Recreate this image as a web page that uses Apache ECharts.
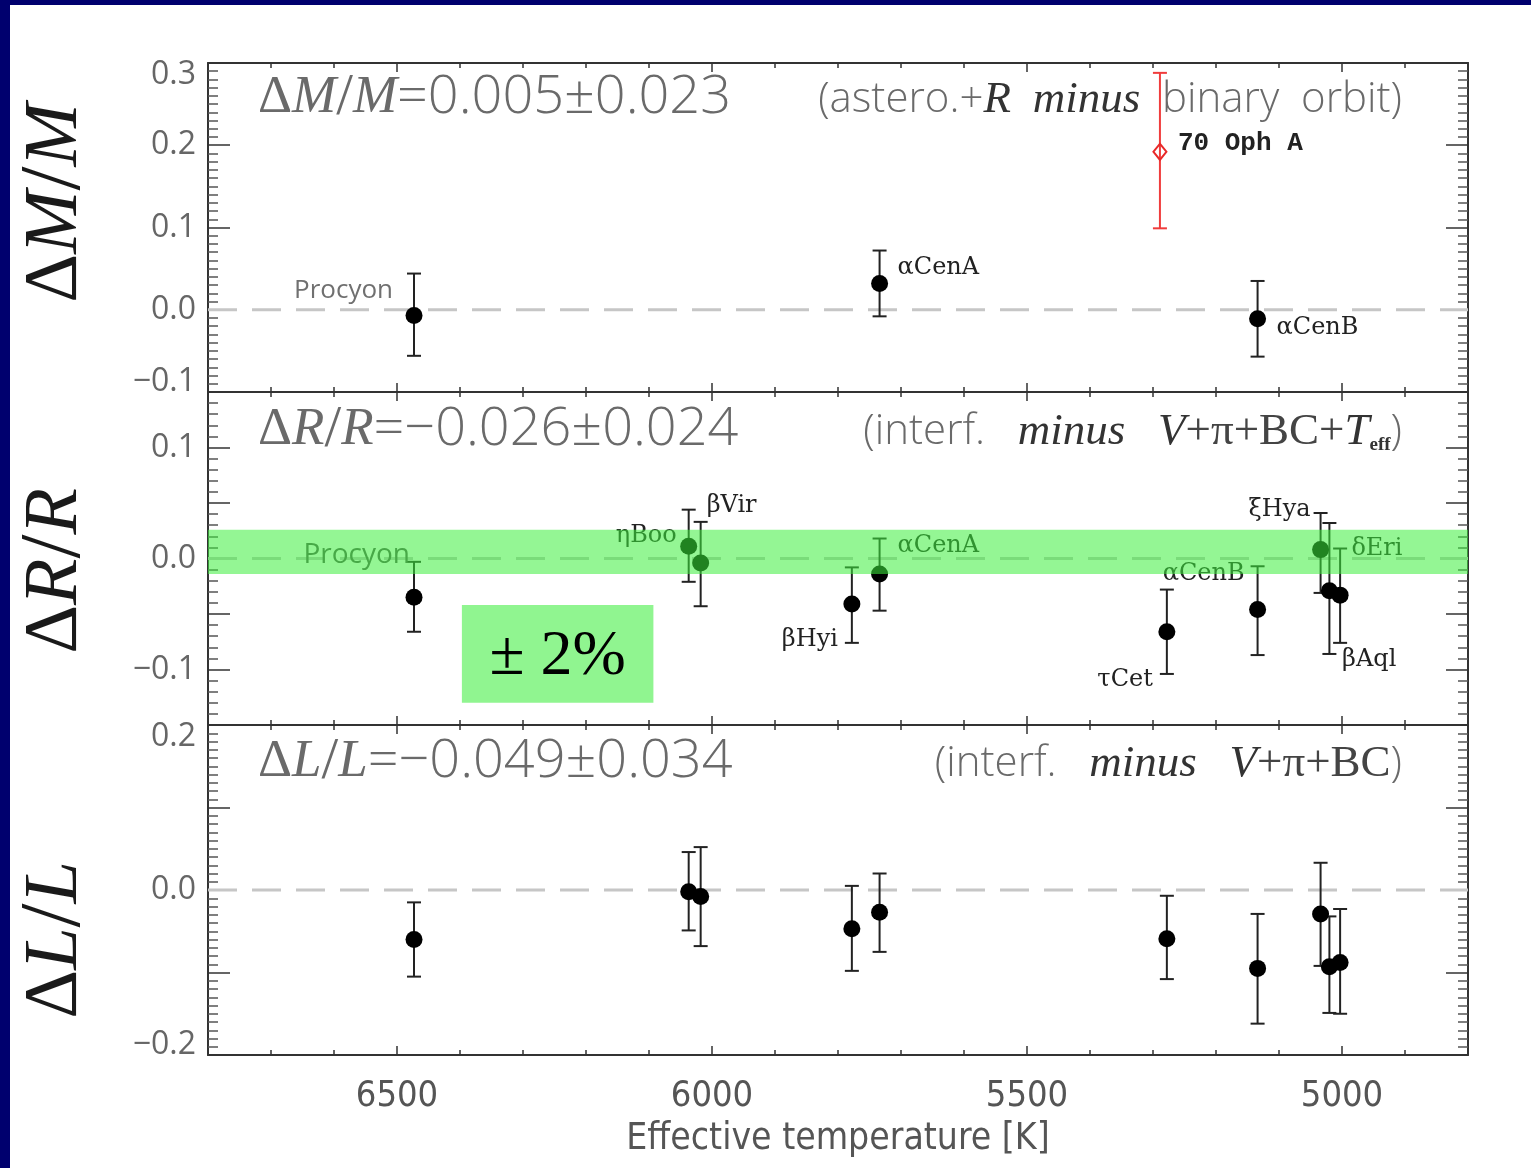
<!DOCTYPE html>
<html>
<head>
<meta charset="utf-8">
<title>Stellar parameter residuals vs effective temperature</title>
<script src="https://cdn.jsdelivr.net/npm/echarts@6/dist/echarts.min.js"></script>
<style>
  html, body { margin: 0; padding: 0; background: #fff; }
  #chart { width: 1531px; height: 1168px; }
</style>
</head>
<body>
<div id="chart"></div>
<script>
// ---- Data ---------------------------------------------------------------
// Temperature axis
const tempTicks = [5000, 5500, 6000, 6500];

// Mass panel (astero. + R minus binary orbit)
const massNames = ['Procyon', 'αCenA', 'αCenB'];
const massTeff  = [6473, 5734, 5134];
const massDelta = [-0.007, 0.032, -0.011];
const massLow   = [-0.056, -0.008, -0.057];
const massHigh  = [0.044, 0.072, 0.035];

const ophNames = ['70 Oph A'];
const ophTeff  = [5289];
const ophDelta = [0.192];
const ophLow   = [0.099];
const ophHigh  = [0.288];

// Radius and luminosity panels share the same stars
const starNames = ['Procyon', 'ηBoo', 'βVir', 'βHyi', 'αCenA', 'τCet', 'αCenB', 'ξHya', 'δEri', 'βAql'];
const starTeff  = [6473, 6037, 6018, 5778, 5734, 5278, 5134, 5034, 5020, 5003];

const radiusDelta = [-0.035, 0.011, -0.004, -0.041, -0.014, -0.066, -0.046, 0.008, -0.029, -0.033];
const radiusLow   = [-0.066, -0.021, -0.043, -0.076, -0.047, -0.104, -0.087, -0.031, -0.086, -0.076];
const radiusHigh  = [-0.003, 0.044, 0.033, -0.008, 0.018, -0.028, -0.007, 0.041, 0.032, 0.009];

const lumDelta = [-0.060, -0.002, -0.008, -0.047, -0.027, -0.059, -0.095, -0.029, -0.093, -0.088];
const lumLow   = [-0.105, -0.049, -0.068, -0.098, -0.075, -0.108, -0.162, -0.092, -0.149, -0.150];
const lumHigh  = [-0.015, 0.046, 0.052, 0.005, 0.020, -0.007, -0.029, 0.033, -0.032, -0.023];

// Panel summaries
const panelStats = ['=0.005±0.023', '=−0.026±0.024', '=−0.049±0.034'];

// ±2% tolerance band in the radius panel
const bandCenter = 0.006;
const bandHalfWidth = 0.02;
const bandText = '± 2%';
const bandBoxTeff = [6397, 6093];
const bandBoxDelta = [-0.042, -0.130];

// ---- Layout / style -----------------------------------------------------
const TMIN = 4800, TMAX = 6800;
const GRID_LEFT = 208, GRID_W = 1260;
const panelTop = [63, 392, 725];
const panelH = [329, 333, 330];
const yRange = [[-0.1, 0.3, 0.1, 10], [-0.15, 0.15, 0.05, 5], [-0.2, 0.2, 0.1, 10]];

const AXIS = '#333';
const SANS = "'Open Sans', 'DejaVu Sans', sans-serif";
const SERIF = "'Liberation Serif', 'DejaVu Serif', serif";
const LABEL_SERIF = "'DejaVu Serif', 'Liberation Serif', serif";
const NARROW = "'Liberation Sans Narrow', 'DejaVu Sans Condensed', 'Roboto', sans-serif";

const serifLabel = { fontFamily: LABEL_SERIF, fontSize: 24, color: '#222' };
const grayLabel1 = { fontFamily: SANS, fontSize: 26, color: '#707070' };
const grayLabel2 = { fontFamily: SANS, fontSize: 28, color: '#555' };
const ophLabel   = { fontFamily: "'Liberation Mono', 'DejaVu Sans Mono', monospace", fontWeight: 'bold', fontSize: 26, color: '#222' };

// where each star name sits relative to its point (px)
const massPlace = {
  'Procyon': { align: 'right', offset: [-21, -25], font: grayLabel1 },
  'αCenA':   { align: 'left',  offset: [18, -16] },
  'αCenB':   { align: 'left',  offset: [19, 9] }
};
const ophPlace = { '70 Oph A': { align: 'left', offset: [18, -8], font: ophLabel } };
const radiusPlace = {
  'Procyon': { align: 'right', offset: [-4, -42], font: grayLabel2 },
  'ηBoo':    { align: 'right', offset: [-12, -11] },
  'βVir':    { align: 'left',  offset: [6, -57] },
  'βHyi':    { align: 'right', offset: [-14, 36] },
  'αCenA':   { align: 'left',  offset: [18, -28] },
  'τCet':    { align: 'right', offset: [-14, 48] },
  'αCenB':   { align: 'right', offset: [-13, -36] },
  'ξHya':    { align: 'right', offset: [-10, -40] },
  'δEri':    { align: 'left',  offset: [22, -42] },
  'βAql':    { align: 'left',  offset: [2, 65] }
};

// ---- Builders -----------------------------------------------------------
function zip3(t, a, b) { return t.map((v, i) => [v, a[i], b[i]]); }

function pointItems(names, teff, vals, place) {
  return names.map((n, i) => {
    const item = { name: n, value: [teff[i], vals[i]] };
    const p = place && place[n];
    if (p) {
      item.label = Object.assign({
        show: true, position: 'inside', distance: 0, formatter: n,
        align: p.align, verticalAlign: 'middle', offset: p.offset,
        textBorderWidth: 0
      }, p.font || serifLabel);
    }
    return item;
  });
}

function errorBarRender(color) {
  return function (params, api) {
    const x = api.value(0);
    const pLo = api.coord([x, api.value(1)]);
    const pHi = api.coord([x, api.value(2)]);
    const half = 7;
    const style = { stroke: color, lineWidth: 2 };
    return {
      type: 'group',
      children: [
        { type: 'line', shape: { x1: pLo[0], y1: pLo[1], x2: pHi[0], y2: pHi[1] }, style },
        { type: 'line', shape: { x1: pLo[0] - half, y1: pLo[1], x2: pLo[0] + half, y2: pLo[1] }, style },
        { type: 'line', shape: { x1: pHi[0] - half, y1: pHi[1], x2: pHi[0] + half, y2: pHi[1] }, style }
      ]
    };
  };
}

function errorSeries(gi, data, color) {
  return {
    type: 'custom', xAxisIndex: gi * 4, yAxisIndex: gi * 2, z: 2,
    data, encode: { x: 0, y: [1, 2] }, renderItem: errorBarRender(color),
    silent: true, animation: false
  };
}

function zeroLineSeries(gi) {
  return {
    type: 'custom', xAxisIndex: gi * 4, yAxisIndex: gi * 2, z: 1,
    data: [[TMAX, TMIN, 0]], encode: { x: [0, 1], y: 2 },
    renderItem: function (params, api) {
      const a = api.coord([api.value(0), api.value(2)]);
      const b = api.coord([api.value(1), api.value(2)]);
      return { type: 'line', shape: { x1: a[0], y1: a[1], x2: b[0], y2: b[1] },
               style: { stroke: '#c6c6c6', lineWidth: 3, lineDash: [29, 15] } };
    },
    silent: true, animation: false
  };
}

function pointSeries(gi, data, opts) {
  return Object.assign({
    type: 'scatter', xAxisIndex: gi * 4, yAxisIndex: gi * 2, z: 3,
    symbol: 'circle', symbolSize: 17,
    itemStyle: { color: '#000', opacity: 1 },
    data, silent: true, animation: false,
    emphasis: { disabled: true }
  }, opts || {});
}

function xAxesFor(gi, withLabels) {
  const base = { gridIndex: gi, type: 'value', min: TMIN, max: TMAX, inverse: true,
                 splitLine: { show: false }, silent: true };
  const major = (pos) => Object.assign({}, base, {
    position: pos,
    axisLine: { show: true, onZero: false, lineStyle: { color: AXIS, width: 2 } },
    axisTick: { show: true, inside: true, length: 9, customValues: tempTicks,
                lineStyle: { color: AXIS, width: 1.5 } },
    axisLabel: { show: withLabels && pos === 'bottom', customValues: tempTicks, margin: 24,
                 formatter: (v) => String(Math.round(v)),
                 fontFamily: NARROW, fontSize: 36, color: '#555' },
    name: (withLabels && pos === 'bottom') ? 'Effective temperature [K]' : '',
    nameLocation: 'middle', nameGap: 66,
    nameTextStyle: { fontFamily: NARROW, fontSize: 37, color: '#555' }
  });
  const minor = (pos) => Object.assign({}, base, {
    position: pos, interval: 100,
    axisLine: { show: false, onZero: false },
    axisTick: { show: true, inside: true, length: 5, lineStyle: { color: AXIS, width: 1.5 } },
    axisLabel: { show: false }
  });
  return [major('bottom'), minor('bottom'), major('top'), minor('top')];
}

function fmtY(v, min, max) {
  const r = Math.round(v * 100);
  if (r % 10 !== 0) return '';
  if (min === -0.2 && Math.abs(r) === 10) return '';
  const s = (r < 0 ? '−' : '') + (Math.abs(r) / 100).toFixed(1);
  if (Math.abs(v - max) < 1e-9) return '{dn|' + s + '}';
  if (Math.abs(v - min) < 1e-9) return '{up|' + s + '}';
  return s;
}

function yAxesFor(gi) {
  const [min, max, interval, split] = yRange[gi];
  const base = { gridIndex: gi, type: 'value', min, max, interval, splitLine: { show: false }, silent: true };
  const labelFont = { fontFamily: SANS, fontSize: 32, color: '#666' };
  const common = (pos) => Object.assign({}, base, {
    position: pos,
    axisLine: { show: true, onZero: false, lineStyle: { color: AXIS, width: 2 } },
    axisTick: { show: true, inside: true, length: 22, lineStyle: { color: AXIS, width: 1.5 } },
    minorTick: { show: true, splitNumber: split, length: 10, lineStyle: { color: '#555', width: 1.5 } },
    axisLabel: Object.assign({
      show: pos === 'left', margin: 12, showMinLabel: true, showMaxLabel: true,
      formatter: (v) => fmtY(v, min, max),
      rich: {
        dn: Object.assign({ padding: [24, 0, 0, 0] }, labelFont),
        up: Object.assign({ padding: [0, 0, 20, 0] }, labelFont)
      }
    }, labelFont)
  });
  return [common('left'), common('right')];
}

// ---- Series -------------------------------------------------------------
const series = [];

// panel 0: mass
series.push(zeroLineSeries(0));
series.push(errorSeries(0, zip3(massTeff, massLow, massHigh), '#222'));
series.push(errorSeries(0, zip3(ophTeff, ophLow, ophHigh), '#f03c3c'));
series.push(pointSeries(0, pointItems(massNames, massTeff, massDelta, massPlace)));
series.push(pointSeries(0, pointItems(ophNames, ophTeff, ophDelta, ophPlace), {
  symbol: 'diamond', symbolSize: [13, 16],
  itemStyle: { color: 'rgba(255,255,255,0)', borderColor: '#e82828', borderWidth: 2, opacity: 1 }
}));

// panel 1: radius
series.push(zeroLineSeries(1));
series.push(errorSeries(1, zip3(starTeff, radiusLow, radiusHigh), '#222'));
series.push(pointSeries(1, pointItems(starNames, starTeff, radiusDelta, radiusPlace)));
// translucent ±2% band over the radius panel
series.push({
  type: 'custom', xAxisIndex: 4, yAxisIndex: 2, z: 10,
  data: [[TMAX, TMIN, bandCenter - bandHalfWidth, bandCenter + bandHalfWidth]],
  encode: { x: [0, 1], y: [2, 3] },
  renderItem: function (params, api) {
    const a = api.coord([api.value(0), api.value(3)]);
    const b = api.coord([api.value(1), api.value(2)]);
    return { type: 'rect', shape: { x: a[0], y: a[1], width: b[0] - a[0], height: b[1] - a[1] },
             style: { fill: 'rgba(60,238,60,0.55)' } };
  },
  silent: true, animation: false
});
// the "± 2%" key box
series.push({
  type: 'custom', xAxisIndex: 4, yAxisIndex: 2, z: 10,
  data: [[bandBoxTeff[0], bandBoxTeff[1], bandBoxDelta[0], bandBoxDelta[1]]],
  encode: { x: [0, 1], y: [2, 3] },
  renderItem: function (params, api) {
    const a = api.coord([api.value(0), api.value(2)]);
    const b = api.coord([api.value(1), api.value(3)]);
    return {
      type: 'group',
      children: [
        { type: 'rect', shape: { x: a[0], y: a[1], width: b[0] - a[0], height: b[1] - a[1] },
          style: { fill: '#90f590' } },
        { type: 'text', x: (a[0] + b[0]) / 2, y: (a[1] + b[1]) / 2 + 3,
          style: { text: bandText, fontFamily: SERIF, fontSize: 64, fill: '#000',
                   align: 'center', verticalAlign: 'middle' } }
      ]
    };
  },
  silent: true, animation: false
});

// panel 2: luminosity
series.push(zeroLineSeries(2));
series.push(errorSeries(2, zip3(starTeff, lumLow, lumHigh), '#222'));
series.push(pointSeries(2, pointItems(starNames, starTeff, lumDelta, null)));

// ---- Text decorations ---------------------------------------------------
const GRAY = '#6a6a6a';
const headRich = {
  d: { fontFamily: SERIF, fontSize: 53, fill: GRAY },
  i: { fontFamily: SERIF, fontStyle: 'italic', fontSize: 53, fill: GRAY },
  s: { fontFamily: SERIF, fontSize: 60, fill: GRAY },
  n: { fontFamily: SANS, fontWeight: 300, fontSize: 54, fill: GRAY }
};
const noteRich = {
  n: { fontFamily: SANS, fontWeight: 300, fontSize: 42, fill: GRAY },
  i: { fontFamily: SERIF, fontStyle: 'italic', fontSize: 45, fill: '#333' },
  m: { fontFamily: SERIF, fontSize: 45, fill: '#444' },
  sub: { fontFamily: SERIF, fontWeight: 'bold', fontSize: 19, fill: '#333', verticalAlign: 'bottom', padding: [18, 0, 0, 0] }
};
const nameRich = {
  d: { fontFamily: SERIF, fontSize: 76, fill: '#1a1a1a' },
  i: { fontFamily: SERIF, fontStyle: 'italic', fontSize: 76, fill: '#1a1a1a' },
  s: { fontFamily: SERIF, fontSize: 86, fill: '#1a1a1a' }
};
const qty = ['M', 'R', 'L'];
const notes = [
  '{n|(astero.+}{i|R}{n|  }{i|minus}{n|  binary  orbit)}',
  '{n|(interf.   }{i|minus}{n|   }{i|V}{m|+π+BC+}{i|T}{sub|eff}{n|)}',
  '{n|(interf.   }{i|minus}{n|   }{i|V}{m|+π+BC}{n|)}'
];
const headY = [98, 430, 762];
const nameY = [203, 571, 940];

const graphic = [
  { type: 'rect', shape: { x: 0, y: 0, width: 1531, height: 5 }, style: { fill: '#00006e' }, silent: true },
  { type: 'rect', shape: { x: 0, y: 0, width: 10, height: 1168 }, style: { fill: '#00006e' }, silent: true }
];
for (let k = 0; k < 3; k++) {
  graphic.push({
    type: 'text', x: 258, y: headY[k], silent: true,
    style: { text: '{d|Δ}{i|' + qty[k] + '}{s|/}{i|' + qty[k] + '}{n|' + panelStats[k] + '}',
             rich: headRich, align: 'left', verticalAlign: 'middle' }
  });
  graphic.push({
    type: 'text', x: 1402, y: headY[k] + 2, silent: true,
    style: { text: notes[k], rich: noteRich, align: 'right', verticalAlign: 'middle' }
  });
  graphic.push({
    type: 'text', x: 56, y: nameY[k], rotation: Math.PI / 2, silent: true,
    style: { text: '{d|Δ}{i|' + qty[k] + '}{s|/}{i|' + qty[k] + '}', rich: nameRich,
             align: 'center', verticalAlign: 'middle' }
  });
}

// ---- Chart --------------------------------------------------------------
const grids = [0, 1, 2].map(g => ({
  left: GRID_LEFT, width: GRID_W, top: panelTop[g], height: panelH[g],
  containLabel: false, outerBoundsMode: 'none'
}));

const option = {
  backgroundColor: '#fff',
  animation: false,
  grid: grids,
  xAxis: [].concat(xAxesFor(0, false), xAxesFor(1, false), xAxesFor(2, true)),
  yAxis: [].concat(yAxesFor(0), yAxesFor(1), yAxesFor(2)),
  series,
  graphic
};

const chart = echarts.init(document.getElementById('chart'));
chart.setOption(option);
</script>
</body>
</html>
